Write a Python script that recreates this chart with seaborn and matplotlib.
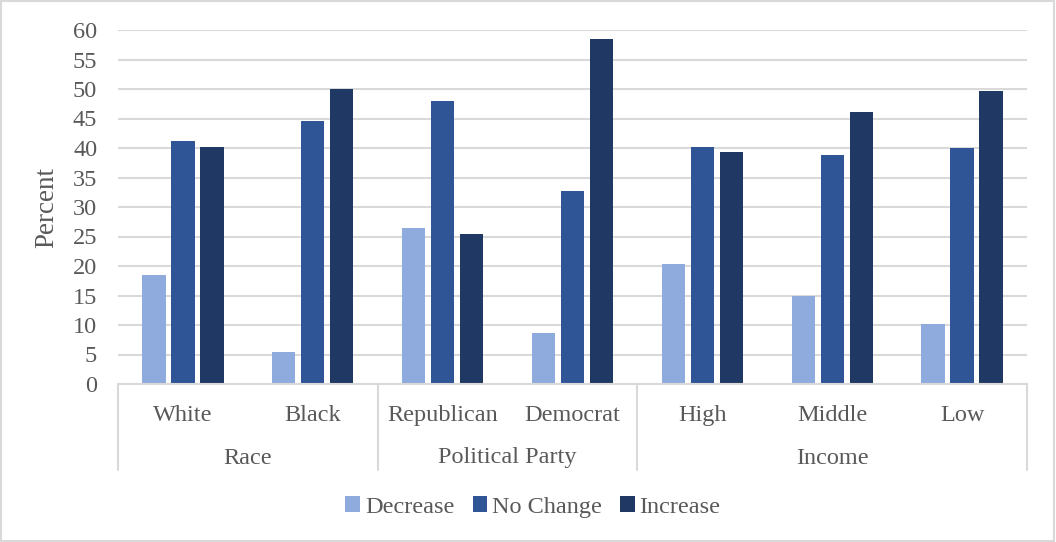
import matplotlib
matplotlib.use("Agg")
import matplotlib.pyplot as plt
import matplotlib.transforms as mtransforms
from matplotlib.patches import Rectangle
import seaborn as sns
import pandas as pd

# Survey breakdown: share of respondents by expected change
groups = ["Race", "Political Party", "Income"]
group_members = [["White", "Black"], ["Republican", "Democrat"], ["High", "Middle", "Low"]]
categories = [c for members in group_members for c in members]
series = ["Decrease", "No Change", "Increase"]

decrease = [18.4, 5.4, 26.5, 8.6, 20.4, 14.9, 10.2]
no_change = [41.2, 44.5, 48.0, 32.7, 40.1, 38.8, 40.0]
increase = [40.2, 50.0, 25.4, 58.5, 39.4, 46.1, 49.6]

colors = ["#8faadc", "#2f5597", "#203864"]
text_color = "#595959"
grid_color = "#d9d9d9"

df = pd.DataFrame({
    "Category": categories * 3,
    "Series": [s for s in series for _ in categories],
    "Percent": decrease + no_change + increase,
})

sns.set_theme(style="white")
plt.rcParams["font.family"] = ["Liberation Serif", "DejaVu Serif"]
fs = 17.5

fig = plt.figure(figsize=(10.56, 5.42), dpi=100)
ax = fig.add_axes([118 / 1056, 1 - 384 / 542, (1027 - 118) / 1056, (384 - 30) / 542])

sns.barplot(data=df, x="Category", y="Percent", hue="Series", order=categories,
            hue_order=series, palette=colors, width=0.67, gap=0.2,
            linewidth=0, saturation=1, ax=ax, legend=True)

ax.set_ylim(0, 60)
ax.set_xlim(-0.5, len(categories) - 0.5)
ax.set_yticks(range(0, 61, 5))
ax.yaxis.grid(True, color=grid_color, linewidth=1.5)
ax.set_axisbelow(True)
for side in ["left", "right", "top"]:
    ax.spines[side].set_visible(False)
ax.spines["bottom"].set_color(grid_color)
ax.spines["bottom"].set_linewidth(1.5)
ax.tick_params(axis="y", length=0, pad=15, labelsize=fs, labelcolor=text_color)
ax.tick_params(axis="x", length=0, pad=15, labelsize=fs, labelcolor=text_color)
ax.set_xlabel("")
ax.set_ylabel("")
fig.text(47 / 1056, 1 - 208 / 542, "Percent", rotation=90, ha="center", va="center",
         fontsize=19.5, color=text_color)

# Group separators and group names beneath the category labels
trans = mtransforms.blended_transform_factory(ax.transData, ax.transAxes)
sep_bottom = -(470 - 384) / 354
edges = [-0.5]
for members in group_members:
    edges.append(edges[-1] + len(members))
for x in edges:
    ax.plot([x, x], [0, sep_bottom], transform=trans, color=grid_color,
            linewidth=1.5, clip_on=False)
for name, lo, hi in zip(groups, edges[:-1], edges[1:]):
    ax.text((lo + hi) / 2, -(458 - 384) / 354, name, transform=trans,
            ha="center", va="center", fontsize=fs, color=text_color)

handles, labels = ax.get_legend_handles_labels()
ax.get_legend().remove()
leg = fig.legend(handles, labels, loc="center", bbox_to_anchor=(533 / 1056, 1 - 507 / 542),
                 ncol=3, frameon=False, fontsize=fs, handlelength=0.6, handleheight=0.6,
                 handletextpad=0.2, columnspacing=0.75)
for t in leg.get_texts():
    t.set_color(text_color)

fig.patches.append(Rectangle((0.001, 0.002), 0.997, 0.996, transform=fig.transFigure,
                             fill=False, edgecolor=grid_color, linewidth=1.5))

fig.savefig("out.png", dpi=100)
